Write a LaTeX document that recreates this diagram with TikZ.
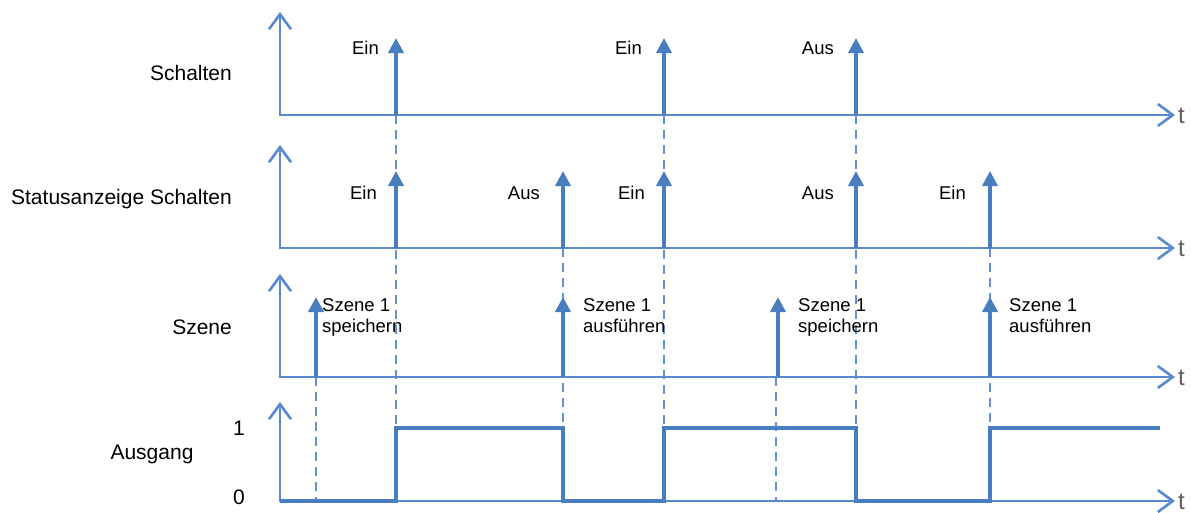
\documentclass[tikz,border=0pt]{standalone}
\usepackage{fontspec}
\setmainfont{Liberation Sans}
\usetikzlibrary{arrows.meta}
\definecolor{sigblue}{RGB}{72,125,192}
\definecolor{axblue}{RGB}{88,138,204}
\definecolor{dashblue}{RGB}{100,145,210}
\definecolor{tgray}{RGB}{95,95,95}
\tikzset{
  axisline/.style={axblue, line width=2.6pt,
    {Straight Barb[length=15pt,width=22pt]}-{Straight Barb[length=15pt,width=22pt]}},
  sigarrow/.style={sigblue, line width=3.6pt, -{Triangle[length=15pt,width=15pt]}},
  sigline/.style={sigblue, line width=3.6pt, line join=miter},
  dashline/.style={dashblue, line width=1.8pt, dash pattern=on 9pt off 6pt},
  lbl/.style={inner sep=0pt, font=\fontsize{18.5}{22}\selectfont},
  rowlbl/.style={inner sep=0pt, font=\fontsize{21}{24}\selectfont},
  szlbl/.style={inner sep=0pt, align=left, anchor=north west, font=\fontsize{18.5}{21}\selectfont},
  tlbl/.style={inner sep=0pt, anchor=base west, text=tgray, font=\fontsize{24}{26}\selectfont},
}
\begin{document}
\begin{tikzpicture}[x=1pt,y=-1pt]
\useasboundingbox (0,0) rectangle (1191,512);

% axis coordinates
\coordinate (o1) at (280,115); \coordinate (top1) at (280,12);  \coordinate (end1) at (1175,115);
\coordinate (o2) at (280,248); \coordinate (top2) at (280,145); \coordinate (end2) at (1175,248);
\coordinate (o3) at (280,377); \coordinate (top3) at (280,274); \coordinate (end3) at (1175,377);
\coordinate (o4) at (280,501); \coordinate (top4) at (280,402); \coordinate (end4) at (1175,501);

% dashed guide lines
\draw[dashline] (396,115) -- (396,428);
\draw[dashline] (664,115) -- (664,428);
\draw[dashline] (856,115) -- (856,428);
\draw[dashline] (563,248) -- (563,428);
\draw[dashline] (990,248) -- (990,428);
\draw[dashline] (316,377) -- (316,501);
\draw[dashline] (776,377) -- (776,501);

% axes
\draw[axisline] (top1) -- (o1) -- (end1);
\draw[axisline] (top2) -- (o2) -- (end2);
\draw[axisline] (top3) -- (o3) -- (end3);
\draw[axisline] (top4) -- (o4) -- (end4);

\node[tlbl] (t1) at (1178,123) {t};
\node[tlbl] (t2) at (1178,256) {t};
\node[tlbl] (t3) at (1178,385) {t};
\node[tlbl] (t4) at (1178,509) {t};

% row 1: Schalten
\draw[sigarrow] (396,115) -- (396,38);
\draw[sigarrow] (664,115) -- (664,38);
\draw[sigarrow] (856,115) -- (856,38);
\node[lbl, anchor=base east] (a1) at (379,54.5) {Ein};
\node[lbl, anchor=base east] (a2) at (642,54.5) {Ein};
\node[lbl, anchor=base east] (a3) at (834,54.5) {Aus};

% row 2: Statusanzeige
\draw[sigarrow] (396,248) -- (396,171);
\draw[sigarrow] (563,248) -- (563,171);
\draw[sigarrow] (664,248) -- (664,171);
\draw[sigarrow] (856,248) -- (856,171);
\draw[sigarrow] (990,248) -- (990,171);
\node[lbl, anchor=base east] (b1) at (377,199.5) {Ein};
\node[lbl, anchor=base east] (b2) at (540,199.5) {Aus};
\node[lbl, anchor=base east] (b3) at (645,199.5) {Ein};
\node[lbl, anchor=base east] (b4) at (834,199.5) {Aus};
\node[lbl, anchor=base east] (b5) at (966,199.5) {Ein};

% row 3: Szene
\draw[sigarrow] (316,377) -- (316,297);
\draw[sigarrow] (563,377) -- (563,297);
\draw[sigarrow] (778,377) -- (778,297);
\draw[sigarrow] (990,377) -- (990,297);
\node[szlbl] (c1) at (322,298.5) {Szene 1\\speichern};
\node[szlbl] (c2) at (583,298.5) {Szene 1\\ausführen};
\node[szlbl] (c3) at (798,298.5) {Szene 1\\speichern};
\node[szlbl] (c4) at (1009,298.5) {Szene 1\\ausführen};

% row 4: Ausgang
\draw[sigline] (280,501) -- (396,501) -- (396,428) -- (563,428) -- (563,501)
  -- (664,501) -- (664,428) -- (856,428) -- (856,501) -- (990,501)
  -- (990,428) -- (1160,428);

% left labels
\node[rowlbl, anchor=base east] (l1) at (232,80.5) {Schalten};
\node[rowlbl, anchor=base east] (l2) at (232,204.5) {Statusanzeige Schalten};
\node[rowlbl, anchor=base east] (l3) at (232,334) {Szene};
\node[rowlbl, anchor=base] (l4) at (152,459) {Ausgang};
\node[rowlbl, anchor=base] (one) at (239,435.5) {1};
\node[rowlbl, anchor=base] (zero) at (239,504.5) {0};
\end{tikzpicture}
\end{document}
